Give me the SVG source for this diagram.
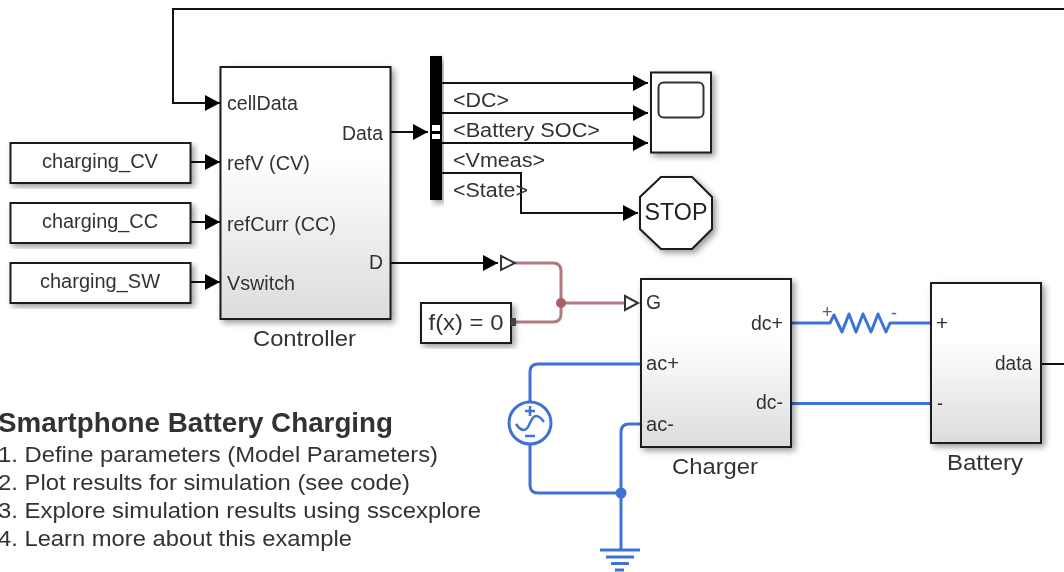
<svg xmlns="http://www.w3.org/2000/svg" width="1064" height="572" viewBox="0 0 1064 572">
<style>
text{font-family:"Liberation Sans",Arial,sans-serif;font-size:19.500px;fill:#333;filter:url(#soft)}
.n{font-size:22px}
.l{font-size:21.500px}
.b{fill:#fff;stroke:#1a1a1a;stroke-width:2;filter:url(#sh)}
.g{fill:url(#gr)}
.w{fill:none;stroke:#111;stroke-width:2}
.e{fill:none;stroke:#3f72d6;stroke-width:3;stroke-linejoin:round}
.r{fill:none;stroke:#b27a80;stroke-width:3}
.t{fill:#fff;stroke:#333;stroke-width:2}
.m{text-anchor:middle}
</style>
<defs>
<linearGradient id="gr" x1="0" y1="0" x2="0" y2="1"><stop offset="0" stop-color="#fff"/><stop offset=".35" stop-color="#fff"/><stop offset="1" stop-color="#dcdcdc"/></linearGradient>
<filter id="sh" x="-10%" y="-10%" width="125%" height="125%"><feGaussianBlur in="SourceAlpha" stdDeviation="3"/><feOffset dx="3" dy="3"/><feComponentTransfer><feFuncA type="linear" slope=".4"/></feComponentTransfer><feMerge><feMergeNode/><feMergeNode in="SourceGraphic"/></feMerge></filter>
<filter id="soft" x="-5%" y="-20%" width="110%" height="140%"><feGaussianBlur stdDeviation=".4"/></filter>
<marker id="a" markerUnits="userSpaceOnUse" markerWidth="16" markerHeight="18" refX="15" refY="9" orient="auto"><path d="M0 1L15 9L0 17Z" fill="#000"/></marker>
</defs>
<g id="connectors">
<path class="w" d="M1042 364H1064M1064 9H173V103H220" marker-end="url(#a)"/>
<path class="w" d="M191 162H220" marker-end="url(#a)"/>
<path class="w" d="M191 222H220" marker-end="url(#a)"/>
<path class="w" d="M191 282H220" marker-end="url(#a)"/>
<path class="w" d="M391 132H428" marker-end="url(#a)"/>
<path class="w" d="M442 83H648" marker-end="url(#a)"/>
<path class="w" d="M442 113H648" marker-end="url(#a)"/>
<path class="w" d="M442 143H648" marker-end="url(#a)"/>
<path class="w" d="M442 173H521V213H638" marker-end="url(#a)"/>
<path class="w" d="M391 263H498" marker-end="url(#a)"/>
<path class="r" d="M515 263H553Q561 263 561 271V314Q561 322 553 322H516M561 303H625"/>
<circle cx="561" cy="303" r="5" fill="#a85f68"/>
<path class="e" d="M641 364H538Q530 364 530 372V402M530 443V485Q530 493 538 493H621M641 424H629Q621 424 621 432V550M791 323H830L834 315L842 332L849 314L856 332L863 314L871 332L878 314L886 332L890 323H931M791 403.500H931"/>
<circle cx="621" cy="493" r="5.500" fill="#3f72d6"/>
<path class="t" d="M501 256L515 263L501 270ZM625 296L638 303L625 310Z"/>
</g>
<g id="charging_CV"><rect class="b" x="10.500" y="143" width="180" height="40"/><text class="m" x="100" y="168" textLength="116" lengthAdjust="spacingAndGlyphs">charging_CV</text></g>
<g id="charging_CC"><rect class="b" x="10.500" y="203" width="180" height="40"/><text class="m" x="100" y="228" textLength="116" lengthAdjust="spacingAndGlyphs">charging_CC</text></g>
<g id="charging_SW"><rect class="b" x="10.500" y="263" width="180" height="40"/><text class="m" x="100" y="288" textLength="120" lengthAdjust="spacingAndGlyphs">charging_SW</text></g>
<g id="Controller"><rect class="b g" x="220.500" y="67" width="170" height="252"/>
<text x="227" y="110" textLength="71" lengthAdjust="spacingAndGlyphs">cellData</text>
<text x="227" y="170" textLength="83" lengthAdjust="spacingAndGlyphs">refV (CV)</text>
<text x="227" y="231" textLength="109" lengthAdjust="spacingAndGlyphs">refCurr (CC)</text>
<text x="227" y="290" textLength="68" lengthAdjust="spacingAndGlyphs">Vswitch</text>
<text x="342" y="140" textLength="41" lengthAdjust="spacingAndGlyphs">Data</text>
<text x="369" y="269" textLength="14" lengthAdjust="spacingAndGlyphs">D</text>
<text class="n" x="253" y="346" textLength="103" lengthAdjust="spacingAndGlyphs">Controller</text></g>
<g id="BusSelector"><rect x="430" y="56" width="12" height="144" fill="#000" filter="url(#sh)"/><rect x="432" y="125" width="8" height="6" fill="#fff"/><rect x="432" y="134" width="8" height="5" fill="#fff"/>
<text x="453" y="107" textLength="56" lengthAdjust="spacingAndGlyphs">&lt;DC&gt;</text>
<text x="453" y="137" textLength="147" lengthAdjust="spacingAndGlyphs">&lt;Battery SOC&gt;</text>
<text x="453" y="167" textLength="92" lengthAdjust="spacingAndGlyphs">&lt;Vmeas&gt;</text>
<text x="453" y="197" textLength="75" lengthAdjust="spacingAndGlyphs">&lt;State&gt;</text></g>
<g id="Scope"><rect class="b" x="651" y="72.500" width="60" height="80"/><rect x="658.500" y="82.500" width="45" height="35" rx="5" fill="none" stroke="#333" stroke-width="2"/></g>
<g id="Stop"><path class="b" d="M661 177H692L712 197V229L692 249H661L640 229V197Z"/><text class="m" x="676" y="220" style="font-size:23px;fill:#222" textLength="63" lengthAdjust="spacingAndGlyphs">STOP</text></g>
<g id="fx"><rect class="b" x="421" y="303" width="90" height="40"/><rect x="511" y="318" width="5" height="8" fill="#444"/><text class="m" x="466" y="330" style="font-size:22px" textLength="75" lengthAdjust="spacingAndGlyphs">f(x) = 0</text></g>
<g id="Charger"><rect class="b g" x="641" y="279" width="150" height="168"/>
<text x="646" y="309" textLength="15" lengthAdjust="spacingAndGlyphs">G</text>
<text x="646" y="370" textLength="33" lengthAdjust="spacingAndGlyphs">ac+</text>
<text x="646" y="431" textLength="28" lengthAdjust="spacingAndGlyphs">ac-</text>
<text x="751" y="330" textLength="32" lengthAdjust="spacingAndGlyphs">dc+</text>
<text x="756" y="409" textLength="27" lengthAdjust="spacingAndGlyphs">dc-</text>
<text class="n" x="672" y="474" textLength="86" lengthAdjust="spacingAndGlyphs">Charger</text></g>
<g id="Battery"><rect class="b g" x="931" y="283" width="110" height="160"/>
<text x="936" y="330" textLength="12" lengthAdjust="spacingAndGlyphs">+</text>
<text x="937" y="410" textLength="6" lengthAdjust="spacingAndGlyphs">-</text>
<text x="995" y="370" textLength="37" lengthAdjust="spacingAndGlyphs">data</text>
<text class="n" x="947" y="470" textLength="76" lengthAdjust="spacingAndGlyphs">Battery</text></g>
<g id="Resistor"><text x="822" y="318" style="font-size:18px;fill:#4a6a60">+</text><text x="891" y="319" style="font-size:18px;fill:#4a6a60">-</text></g>
<g id="Source"><circle cx="530" cy="423" r="21" fill="#fff" stroke="#3f72d6" stroke-width="3"/><path d="M516 424Q520 430 524 430C530 430 530 416 536 416Q540 416 544 422" fill="none" stroke="#3f72d6" stroke-width="2.500"/><path d="M525 411H535M530 406V416M525 436H535" stroke="#3f72d6" stroke-width="2.500" fill="none"/></g>
<g id="Ground"><path d="M600 550H640M606 557H634M611 563.500H629M615 570H624" stroke="#3f72d6" stroke-width="3" fill="none"/></g>
<g id="Notes">
<text x="-2" y="432" style="font-size:27px;font-weight:bold" textLength="395" lengthAdjust="spacingAndGlyphs">Smartphone Battery Charging</text>
<text class="l" x="-2" y="462" textLength="440" lengthAdjust="spacingAndGlyphs">1. Define parameters (Model Parameters)</text>
<text class="l" x="-2" y="490" textLength="412" lengthAdjust="spacingAndGlyphs">2. Plot results for simulation (see code)</text>
<text class="l" x="-2" y="518" textLength="483" lengthAdjust="spacingAndGlyphs">3. Explore simulation results using sscexplore</text>
<text class="l" x="-2" y="546" textLength="354" lengthAdjust="spacingAndGlyphs">4. Learn more about this example</text>
</g>
</svg>
